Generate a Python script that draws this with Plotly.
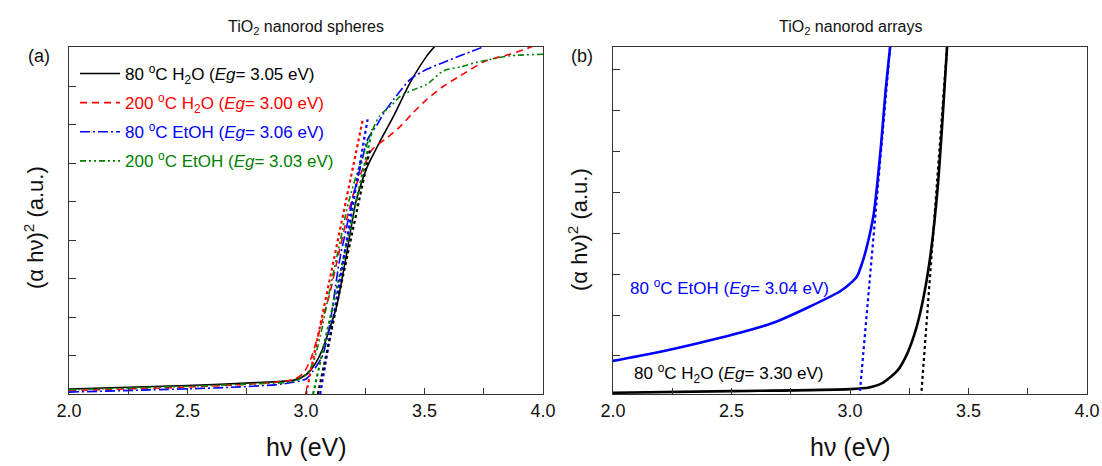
import plotly.graph_objects as go

# ---------------- data: panel (a) TiO2 nanorod spheres ----------------
a_h2o80_x = [2.0, 2.5, 2.8, 2.95, 3.0, 3.04, 3.07, 3.10, 3.13, 3.17, 3.21, 3.24, 3.26, 3.31, 3.37, 3.44, 3.51, 3.545]
a_h2o80_y = [0.13, 0.22, 0.30, 0.36, 0.50, 0.80, 1.17, 1.70, 2.30, 3.60, 4.98, 5.60, 5.93, 6.54, 7.23, 8.10, 8.79, 9.05]

a_h2o200_x = [2.0, 2.5, 2.8, 2.95, 2.99, 3.02, 3.05, 3.07, 3.10, 3.13, 3.17, 3.21, 3.25, 3.28, 3.34, 3.40, 3.45, 3.51, 3.58, 3.65, 3.76, 3.86, 3.92, 3.96]
a_h2o200_y = [0.09, 0.18, 0.27, 0.38, 0.55, 0.91, 1.50, 1.95, 2.60, 3.42, 4.50, 5.40, 6.00, 6.36, 6.65, 6.97, 7.30, 7.66, 8.00, 8.27, 8.66, 8.83, 8.95, 9.05]

a_etoh80_x = [2.0, 2.3, 2.67, 2.9, 3.0, 3.03, 3.07, 3.10, 3.14, 3.17, 3.20, 3.23, 3.26, 3.30, 3.33, 3.37, 3.44, 3.51, 3.58, 3.65, 3.76]
a_etoh80_y = [0.05, 0.10, 0.17, 0.26, 0.39, 0.60, 1.00, 1.80, 3.42, 4.30, 5.15, 5.90, 6.62, 7.00, 7.32, 7.66, 8.18, 8.44, 8.62, 8.79, 9.05]

a_etoh200_x = [2.0, 2.5, 2.8, 2.95, 3.0, 3.03, 3.06, 3.10, 3.14, 3.18, 3.23, 3.27, 3.31, 3.36, 3.40, 3.45, 3.51, 3.58, 3.65, 3.72, 3.86, 4.0]
a_etoh200_y = [0.11, 0.20, 0.27, 0.33, 0.50, 0.82, 1.50, 2.70, 3.85, 5.00, 6.02, 6.70, 7.23, 7.50, 7.75, 7.90, 8.05, 8.40, 8.50, 8.62, 8.79, 8.83]

# tangent (Tauc) lines: [Eg intercept, upper point]
a_fit_h2o80 = ([3.05, 3.27], [0.0, 6.36])
a_fit_h2o200 = ([3.00, 3.24], [0.0, 7.14])
a_fit_etoh80 = ([3.06, 3.26], [0.0, 7.14])
a_fit_etoh200 = ([3.03, 3.28], [0.0, 6.88])

# ---------------- data: panel (b) TiO2 nanorod arrays ----------------
b_etoh80_x = [2.0, 2.18, 2.35, 2.51, 2.68, 2.82, 2.96, 3.01, 3.03, 3.05, 3.07, 3.10, 3.13, 3.15, 3.17]
b_etoh80_y = [0.88, 1.08, 1.30, 1.53, 1.82, 2.18, 2.59, 2.82, 2.95, 3.25, 3.65, 4.47, 6.10, 7.48, 8.60]

b_h2o80_x = [2.0, 2.5, 3.0, 3.08, 3.14, 3.20, 3.24, 3.28, 3.31, 3.34, 3.37, 3.39, 3.41]
b_h2o80_y = [0.10, 0.14, 0.19, 0.23, 0.35, 0.64, 1.04, 1.69, 2.43, 3.49, 5.12, 6.75, 8.60]

b_fit_etoh80 = ([3.04, 3.17], [0.0, 8.60])
b_fit_h2o80 = ([3.30, 3.41], [0.0, 8.60])

x_tickvals = [2.0, 2.5, 3.0, 3.5, 4.0]
x_ticktext = ["2.0", "2.5", "3.0", "3.5", "4.0"]

BLACK, RED, BLUE, GREEN = "#000000", "#ff0000", "#0000ff", "#008000"
AXC = "#3a3030"
FONT = "Liberation Sans, Arial, sans-serif"
SPL = dict(shape="spline", smoothing=0.7)

fig = go.Figure()

def leg(label, color):
    return f'<span style="color:{color}">{label}</span>'

# panel (a) curves
fig.add_trace(go.Scatter(x=a_h2o80_x, y=a_h2o80_y, mode="lines", line=dict(color=BLACK, width=1.6, **SPL),
                         name=leg("80 <sup>o</sup>C H<sub>2</sub>O (<i>Eg</i>= 3.05 eV)", BLACK),
                         legendgroup="g1", xaxis="x", yaxis="y"))
fig.add_trace(go.Scatter(x=a_h2o200_x, y=a_h2o200_y, mode="lines", line=dict(color=RED, width=1.6, dash="7px,5px", **SPL),
                         name=leg("200 <sup>o</sup>C H<sub>2</sub>O (<i>Eg</i>= 3.00 eV)", RED),
                         legendgroup="g2", xaxis="x", yaxis="y"))
fig.add_trace(go.Scatter(x=a_etoh80_x, y=a_etoh80_y, mode="lines", line=dict(color=BLUE, width=1.6, dash="10px,3px,2px,3px", **SPL),
                         name=leg("80 <sup>o</sup>C EtOH (<i>Eg</i>= 3.06 eV)", BLUE),
                         legendgroup="g3", xaxis="x", yaxis="y"))
fig.add_trace(go.Scatter(x=a_etoh200_x, y=a_etoh200_y, mode="lines", line=dict(color=GREEN, width=1.6, dash="6px,3px,2px,3px,2px,3px", **SPL),
                         name=leg("200 <sup>o</sup>C EtOH (<i>Eg</i>= 3.03 eV)", GREEN),
                         legendgroup="g4", xaxis="x", yaxis="y"))

for (fx, fy), c in [(a_fit_h2o200, RED), (a_fit_etoh200, GREEN), (a_fit_etoh80, BLUE), (a_fit_h2o80, BLACK)]:
    fig.add_trace(go.Scatter(x=fx, y=fy, mode="lines", line=dict(color=c, width=2.2, dash="dot"),
                             showlegend=False, xaxis="x", yaxis="y"))

# panel (b) curves
fig.add_trace(go.Scatter(x=b_etoh80_x, y=b_etoh80_y, mode="lines", line=dict(color=BLUE, width=2.6, **SPL),
                         showlegend=False, xaxis="x2", yaxis="y2"))
fig.add_trace(go.Scatter(x=b_h2o80_x, y=b_h2o80_y, mode="lines", line=dict(color=BLACK, width=2.6, **SPL),
                         showlegend=False, xaxis="x2", yaxis="y2"))
for (fx, fy), c in [(b_fit_etoh80, BLUE), (b_fit_h2o80, BLACK)]:
    fig.add_trace(go.Scatter(x=fx, y=fy, mode="lines", line=dict(color=c, width=2.2, dash="dot"),
                             showlegend=False, xaxis="x2", yaxis="y2"))

xcommon = dict(range=[2.0, 4.0], tickvals=x_tickvals, ticktext=x_ticktext, ticks="inside", ticklen=6,
               tickcolor=AXC, showline=True, linecolor=AXC, linewidth=1.2, mirror=True, showgrid=False,
               zeroline=False, automargin=False, ticklabeloverflow="allow",
               tickfont=dict(family=FONT, size=18, color="#111"),
               minor=dict(dtick=0.25, tick0=2.0, ticks="inside", ticklen=6, tickcolor=AXC, showgrid=False))
ycommon = dict(ticks="inside", ticklen=7, tickcolor=AXC, showline=True, linecolor=AXC, linewidth=1.2,
               mirror=True, showgrid=False, zeroline=False, showticklabels=False, dtick=1, tick0=0,
               automargin=False)

W, H = 1102, 466

def PX(x):
    return x / W

def PY(y):
    return 1 - y / H

fig.update_layout(
    width=W, height=H, margin=dict(l=0, r=0, t=0, b=0, autoexpand=False),
    paper_bgcolor="white", plot_bgcolor="white",
    font=dict(family=FONT, color="#111"),
    xaxis=dict(domain=[PX(69), PX(543)], anchor="y", **xcommon),
    yaxis=dict(domain=[PY(394), PY(47)], anchor="x", range=[0, 9.02], **ycommon),
    xaxis2=dict(domain=[PX(613), PX(1087)], anchor="y2", **xcommon),
    yaxis2=dict(domain=[PY(394), PY(47)], anchor="x2", range=[0.07, 8.56], **ycommon),
    showlegend=True,
    legend=dict(x=PX(75), y=PY(56), xanchor="left", yanchor="top", bgcolor="rgba(0,0,0,0)",
                font=dict(family=FONT, size=17), tracegroupgap=4, itemwidth=40),
)

def txt(text, x, y, size, color="#111", xanchor="center", angle=0):
    return dict(text=text, x=PX(x), y=PY(y), xref="paper", yref="paper", showarrow=False,
                xanchor=xanchor, yanchor="middle", textangle=angle,
                font=dict(size=size, family=FONT, color=color))

ann = [
    txt("TiO<sub>2</sub> nanorod spheres", 306, 28, 16),
    txt("TiO<sub>2</sub> nanorod arrays", 850, 28, 16),
    txt("(a)", 39, 56, 18),
    txt("(b)", 582, 56, 18),
    txt("(α hν)<sup>2</sup> (a.u.)", 34, 228, 22, angle=-90),
    txt("(α hν)<sup>2</sup> (a.u.)", 578, 230, 22, angle=-90),
    txt("hν (eV)", 306, 447, 25),
    txt("hν (eV)", 850, 447, 25),
    txt("80 <sup>o</sup>C EtOH (<i>Eg</i>= 3.04 eV)", 628, 287, 17, color=BLUE, xanchor="left"),
    txt("80 <sup>o</sup>C H<sub>2</sub>O (<i>Eg</i>= 3.30 eV)", 632, 373, 17, color=BLACK, xanchor="left"),
]
fig.update_layout(annotations=ann)

fig.write_html("out.html", config={"displayModeBar": False},
               post_script="document.body.style.margin='0';document.body.style.overflow='hidden';")
